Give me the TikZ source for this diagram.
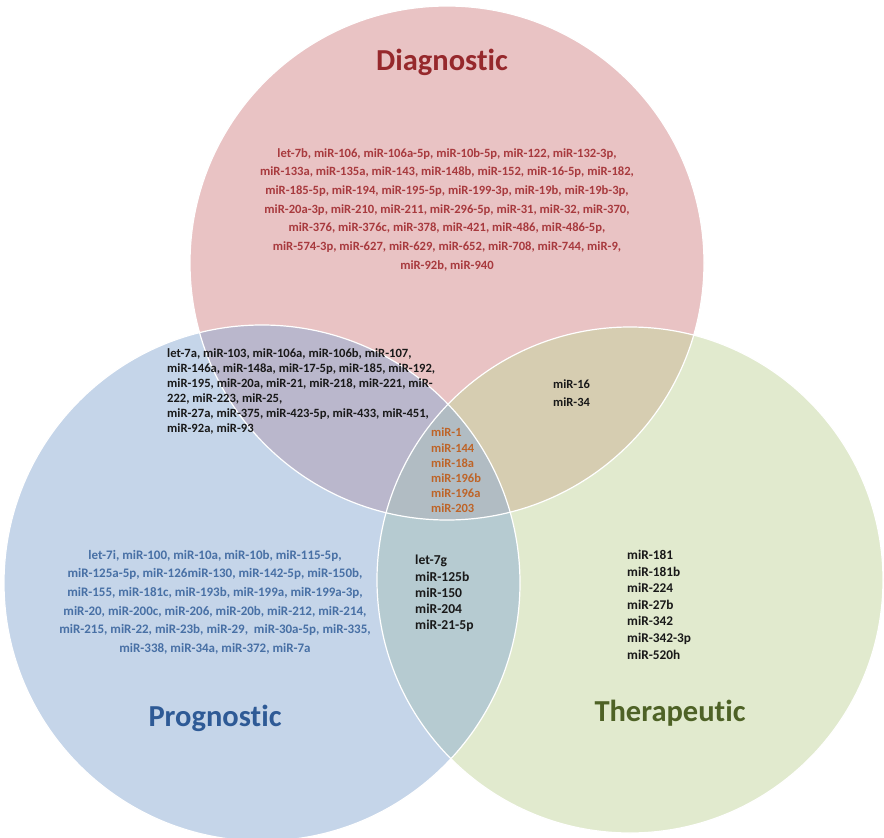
\documentclass[tikz,border=0pt]{standalone}
\usepackage{fontspec}
\setmainfont{Carlito}[Ligatures=NoCommon]
\definecolor{pinkbase}{RGB}{213,137,139}
\definecolor{bluebase}{RGB}{141,173,213}
\definecolor{greenbase}{RGB}{197,215,159}
\definecolor{diagtxt}{RGB}{168,58,62}
\definecolor{diagtitle}{RGB}{150,40,44}
\definecolor{progtxt}{RGB}{72,112,165}
\definecolor{progtitle}{RGB}{46,90,150}
\definecolor{thertitle}{RGB}{78,98,38}
\definecolor{orangetxt}{RGB}{190,100,40}
\definecolor{darktxt}{RGB}{25,25,25}
\tikzset{
  setcircle/.style={opacity=0.5},
  rim/.style={draw=white, line width=1.2pt},
  title/.style={inner sep=0pt, font=\fontsize{30.5}{36}\selectfont\bfseries},
  listtxt/.style 2 args={inner sep=0pt, font=\fontsize{#1}{#2}\selectfont\bfseries},
}
\begin{document}
\begin{tikzpicture}[x=1pt,y=-1pt]
\useasboundingbox (0,0) rectangle (884,838);
\begin{scope}
\clip (0,0) rectangle (884,838);
\fill[white] (0,0) rectangle (884,838);
\fill[pinkbase, setcircle] (447,263) circle [radius=257pt];
\fill[greenbase, setcircle] (630,580) circle [radius=253pt];
\fill[bluebase, setcircle] (262,583) circle [radius=258pt];
\draw[rim] (447,263) circle [radius=257pt];
\draw[rim] (630,580) circle [radius=253pt];
\draw[rim] (262,583) circle [radius=258pt];
\end{scope}

\node[title, text=diagtitle] (tdiag) at (442,62) {Diagnostic};
\node[title, text=progtitle] (tprog) at (215,718) {Prognostic};
\node[title, text=thertitle] (tther) at (670,713) {Therapeutic};

\node[listtxt={12.6}{18.7}, text=diagtxt, align=center, anchor=north] (ldiag) at (447,148)
{let-7b, miR-106, miR-106a-5p, miR-10b-5p, miR-122, miR-132-3p,\\
miR-133a, miR-135a, miR-143, miR-148b, miR-152, miR-16-5p, miR-182,\\
miR-185-5p, miR-194, miR-195-5p, miR-199-3p, miR-19b, miR-19b-3p,\\
miR-20a-3p, miR-210, miR-211, miR-296-5p, miR-31, miR-32, miR-370,\\
miR-376, miR-376c, miR-378, miR-421, miR-486, miR-486-5p,\\
miR-574-3p, miR-627, miR-629, miR-652, miR-708, miR-744, miR-9,\\
miR-92b, miR-940};

\node[listtxt={12.6}{15}, text=darktxt, align=left, anchor=north west] (ldp) at (167,348)
{let-7a, miR-103, miR-106a, miR-106b, miR-107,\\
miR-146a, miR-148a, miR-17-5p, miR-185, miR-192,\\
miR-195, miR-20a, miR-21, miR-218, miR-221, miR-\\
222, miR-223, miR-25,\\
miR-27a, miR-375, miR-423-5p, miR-433, miR-451,\\
miR-92a, miR-93};

\node[listtxt={12.5}{15.2}, text=orangetxt, align=left, anchor=north west] (ldpt) at (431,428)
{miR-1\\ miR-144\\ miR-18a\\ miR-196b\\ miR-196a\\ miR-203};

\node[listtxt={12.5}{18}, text=darktxt, align=left, anchor=north west] (ldt) at (553,380)
{miR-16\\ miR-34};

\node[listtxt={13}{18.6}, text=progtxt, align=center, anchor=north] (lprog) at (215,550)
{let-7i, miR-100, miR-10a, miR-10b, miR-115-5p,\\
miR-125a-5p, miR-126miR-130, miR-142-5p, miR-150b,\\
miR-155, miR-181c, miR-193b, miR-199a, miR-199a-3p,\\
miR-20, miR-200c, miR-206, miR-20b, miR-212, miR-214,\\
miR-215, miR-22, miR-23b, miR-29,\ \ miR-30a-5p, miR-335,\\
miR-338, miR-34a, miR-372, miR-7a};

\node[listtxt={13.6}{16.3}, text=darktxt, align=left, anchor=north west] (lpt) at (415,555)
{let-7g\\ miR-125b\\ miR-150\\ miR-204\\ miR-21-5p};

\node[listtxt={13.3}{16.6}, text=darktxt, align=left, anchor=north west] (lther) at (627,550)
{miR-181\\ miR-181b\\ miR-224\\ miR-27b\\ miR-342\\ miR-342-3p\\ miR-520h};
\end{tikzpicture}
\end{document}
